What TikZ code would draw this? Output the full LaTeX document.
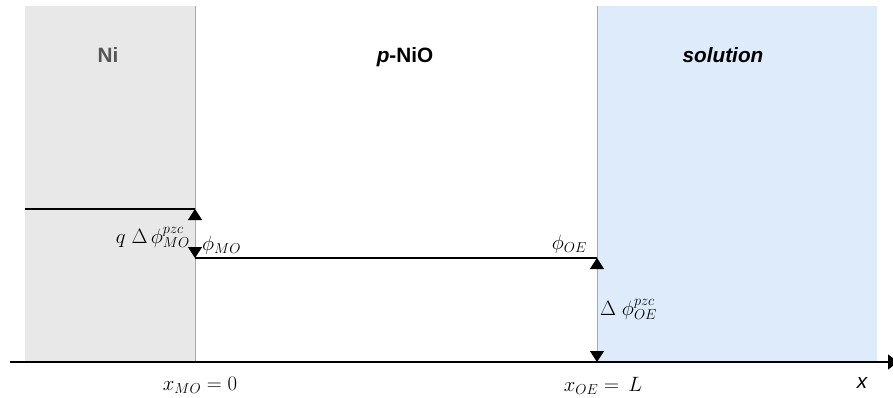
\documentclass[tikz,border=0pt]{standalone}
\usepackage{fontspec}
\setmainfont{Liberation Sans}
\usetikzlibrary{arrows.meta}
\definecolor{nigray}{HTML}{E8E8E8}
\definecolor{solblue}{HTML}{DDEBFB}
\definecolor{edgegray}{HTML}{A8A8A8}
\definecolor{titlegray}{HTML}{555555}
\tikzset{
  tip/.tip={Triangle[width=14pt,length=11pt,black]},
  boundary/.style={draw=edgegray, line width=0.8pt},
  level/.style={draw=black, line width=1.4pt},
  gap/.style={draw=edgegray, line width=0.8pt, {tip}-{tip}},
  title/.style={font=\huge\bfseries, inner sep=0pt},
  mlabel/.style={font=\huge, inner sep=0pt}
}
\begin{document}
\begin{tikzpicture}[x=1pt,y=-1pt]
\useasboundingbox (0,0) rectangle (893,398);
% regions
\fill[nigray] (25,6) rectangle (195,362);
\fill[solblue] (597,6) rectangle (877,362);
\coordinate (b1top) at (195,6);
\coordinate (b1bot) at (195,362);
\coordinate (b2top) at (597,6);
\coordinate (b2bot) at (597,362);
\draw[boundary] (b1top) -- (b1bot);
\draw[boundary] (b2top) -- (b2bot);
% titles
\node[title, text=titlegray, anchor=base] (ni) at (108,63) {Ni};
\node[title, anchor=base] (nio) at (405,63) {\itshape p\upshape-NiO};
\node[title, anchor=base] (sol) at (723,63) {\itshape solution};
% levels
\coordinate (niL) at (25,209);
\coordinate (niR) at (195,209);
\coordinate (phiL) at (195,258);
\coordinate (phiR) at (597,258);
\coordinate (axL) at (10,362);
\coordinate (axR) at (898,362);
\draw[level] (niL) -- (niR);
\draw[level] (phiL) -- (phiR);
\draw[level, -{Triangle[width=15pt,length=10pt,black]}] (axL) -- (axR);
% gaps
\draw[gap] (niR) -- (phiL);
\draw[gap] (phiR) -- (b2bot);
% labels
\node[mlabel, anchor=base east] (dmo) at (190,243) {$q\ \Delta\,\phi^{pzc}_{MO}$};
\node[mlabel, anchor=base west] (pmo) at (202,250) {$\phi_{MO}$};
\node[mlabel, anchor=base east] (poe) at (587,249) {$\phi_{OE}$};
\node[mlabel, anchor=base west] (doe) at (600,315) {$\Delta\ \phi^{pzc}_{OE}$};
\node[mlabel, anchor=base] (xmo) at (200,390) {$x_{MO} = 0$};
\node[mlabel, anchor=base] (xoe) at (603,391) {$x_{OE} = \,L$};
\node[mlabel, anchor=base, font=\huge\itshape] (xax) at (862,388) {x};
\end{tikzpicture}
\end{document}
